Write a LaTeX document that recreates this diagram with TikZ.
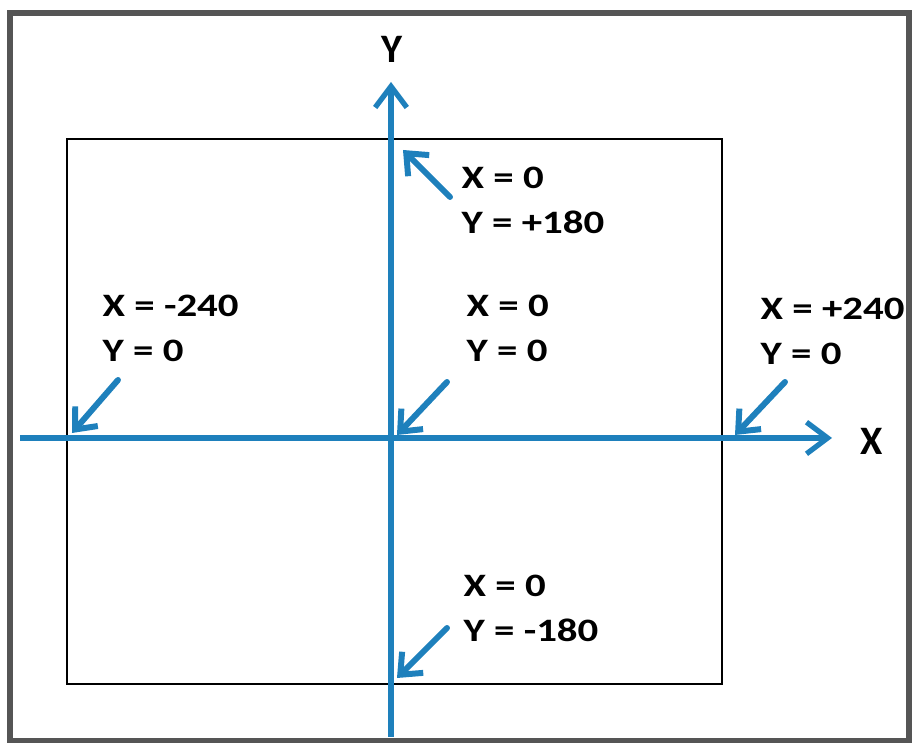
\documentclass[tikz,border=0pt]{standalone}
\usepackage{fontspec}
\setmainfont{Carlito}[FakeStretch=1.25]
\newfontfamily\axisfont{Carlito}
\usepackage{tikz}
\usetikzlibrary{arrows.meta}

\definecolor{axisblue}{RGB}{30,128,188}
\definecolor{framegray}{RGB}{85,85,85}

\begin{document}
\begin{tikzpicture}[
  axis/.style={axisblue, line width=1.5pt, -{Straight Barb[length=6pt, width=9pt]}},
  ptr/.style={axisblue, line width=1.7pt, line cap=round,
              -{Straight Barb[length=5pt, width=8.5pt]}},
  lbl/.style={font=\bfseries\fontsize{9.3}{12.8}\selectfont, align=left,
              anchor=west, inner sep=0pt},
  axlbl/.style={font=\axisfont\bfseries\fontsize{11.5}{14}\selectfont, inner sep=0pt}
]
  \useasboundingbox (-3.91,-3.05) rectangle (5.21,4.38);

  % Outer frame
  \draw[framegray, line width=1.6pt] (-3.81,-3.03) rectangle (5.18,4.25);

  % Screen
  \draw[line width=0.6pt] (-3.24,-2.46) rectangle (3.31,2.99);

  % Axes
  \coordinate (xs) at (-3.71,0);
  \coordinate (xe) at (4.41,0);
  \coordinate (ys) at (0,-2.99);
  \coordinate (ye) at (0,3.56);
  \draw[axis] (xs) -- (xe);
  \draw[axis] (ys) -- (ye);
  \node[axlbl] (xl) at (4.81,-0.03) {X};
  \node[axlbl] (yl) at (0.01,3.89) {Y};

  % Labels
  \node[lbl] (top) at (0.70,2.38) {X = 0\\Y = +180};
  \node[lbl] (left) at (-2.89,1.10) {X = -240\\Y = 0};
  \node[lbl] (ctr) at (0.75,1.10) {X = 0\\Y = 0};
  \node[lbl] (right) at (3.69,1.07) {X = +240\\Y = 0};
  \node[lbl] (bot) at (0.72,-1.70) {X = 0\\Y = -180};

  % Pointers
  \coordinate (top-a) at (0.59,2.41);
  \coordinate (top-b) at (0.12,2.88);
  \coordinate (left-a) at (-2.73,0.58);
  \coordinate (left-b) at (-3.19,0.05);
  \coordinate (ctr-a) at (0.56,0.56);
  \coordinate (ctr-b) at (0.06,0.03);
  \coordinate (right-a) at (3.94,0.56);
  \coordinate (right-b) at (3.44,0.03);
  \coordinate (bot-a) at (0.56,-1.90);
  \coordinate (bot-b) at (0.06,-2.40);
  \draw[ptr] (top-a) -- (top-b);
  \draw[ptr] (left-a) -- (left-b);
  \draw[ptr] (ctr-a) -- (ctr-b);
  \draw[ptr] (right-a) -- (right-b);
  \draw[ptr] (bot-a) -- (bot-b);
\end{tikzpicture}
\end{document}
